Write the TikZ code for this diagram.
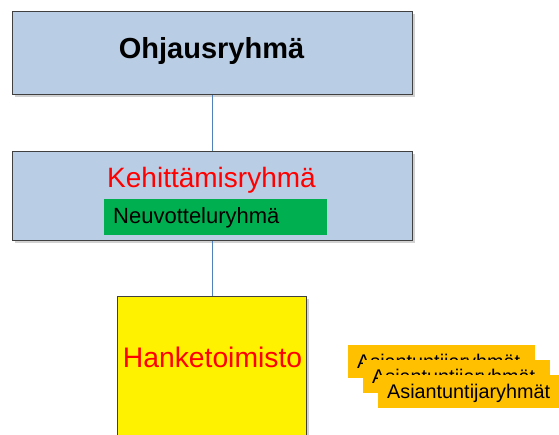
\documentclass[tikz,border=0pt]{standalone}
\usepackage{fontspec}
\setmainfont{Liberation Sans}
\usetikzlibrary{shadows}
\definecolor{boxblue}{HTML}{B9CDE5}
\definecolor{lineblue}{HTML}{4F81BD}
\definecolor{greenbox}{HTML}{00B050}
\definecolor{orangebox}{HTML}{FFC000}
\definecolor{edgegray}{HTML}{404040}
\tikzset{
  orgbox/.style={draw=edgegray, line width=0.9pt, minimum width=#1, inner sep=0pt, anchor=north west,
    drop shadow={shadow xshift=2.5pt, shadow yshift=-2.5pt, fill=black, opacity=0.18}},
  conn/.style={draw=lineblue, line width=1pt},
  expert/.style={fill=orangebox, minimum width=187pt, minimum height=33pt, inner sep=0pt, anchor=north west},
  experttext/.style={anchor=base west, inner sep=0pt, font=\fontsize{19.8}{22}\selectfont}
}
\begin{document}
\begin{tikzpicture}[x=1pt, y=-1pt]
\clip (0,0) rectangle (559,435);
\fill[white] (0,0) rectangle (559,435);
% boxes
\node[orgbox=400pt, minimum height=83pt, fill=boxblue] (ohj) at (12,11) {};
\node[orgbox=400pt, minimum height=89pt, fill=boxblue] (keh) at (12,151) {};
\node[orgbox=189pt, minimum height=160pt, fill=yellow] (han) at (117,296) {};
\node[fill=greenbox, minimum width=223pt, minimum height=36pt, inner sep=0pt, anchor=north west] (neu) at (104,199) {};
% connectors
\draw[conn] (ohj.south -| 212,0) -- (keh.north -| 212,0);
\draw[conn] (keh.south -| 212,0) -- (han.north -| 212,0);
% texts
\node[anchor=base, inner sep=0pt, font=\fontsize{29}{32}\selectfont\bfseries] (ohjt) at (211.5,59) {Ohjausryhmä};
\node[anchor=base, inner sep=0pt, text=red, font=\fontsize{28}{30}\selectfont] (keht) at (211.5,188) {Kehittämisryhmä};
\node[anchor=base west, inner sep=0pt, font=\fontsize{22}{24}\selectfont] (neut) at (113,224) {Neuvotteluryhmä};
\node[anchor=base, inner sep=0pt, text=red, font=\fontsize{28.3}{30}\selectfont] (hant) at (212.5,367) {Hanketoimisto};
% expert groups
\node[expert] (as1) at (348,345) {};
\node[experttext] (as1t) at (357,368) {Asiantuntijaryhmät};
\node[expert] (as2) at (363,360) {};
\node[experttext] (as2t) at (372,383) {Asiantuntijaryhmät};
\node[expert, minimum width=181pt] (as3) at (378,375) {};
\node[experttext] (as3t) at (387,398) {Asiantuntijaryhmät};
\end{tikzpicture}
\end{document}
